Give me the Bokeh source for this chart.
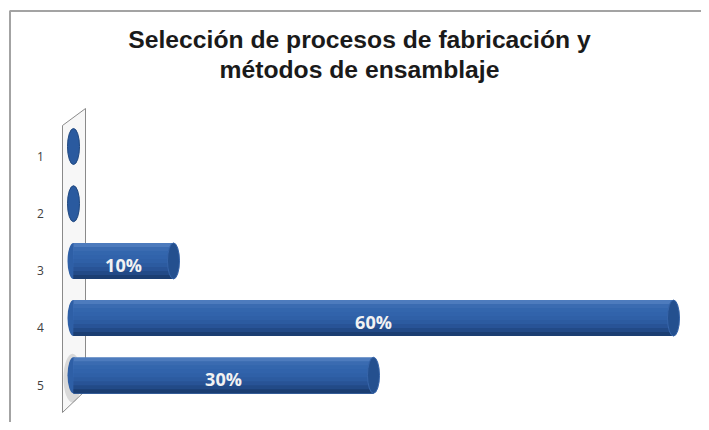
from bokeh.plotting import figure
from bokeh.models import Range1d, ColumnDataSource
from bokeh.core.properties import value
from bokeh.embed import file_html
from bokeh.resources import INLINE

# ---- data ----
categories = ["1", "2", "3", "4", "5"]
percentages = [0, 0, 10, 60, 30]
title_lines = ["Selección de procesos de fabricación y", "métodos de ensamblaje"]

W, H = 701, 422
PX_PER_X = 10.0
X0 = -73 / PX_PER_X
X1 = X0 + W / PX_PER_X
PX_PER_Y = 57.2
YT = 1 - 146 / PX_PER_Y
YB = YT + H / PX_PER_Y

def px_x(px):
    return X0 + px / PX_PER_X

def px_y(py):
    return YT + py / PX_PER_Y

p = figure(width=W, height=H, output_backend="svg", toolbar_location=None,
           x_range=Range1d(X0, X1), y_range=Range1d(YB, YT),
           x_axis_location=None, y_axis_location=None, min_border=0,
           background_fill_color="white", border_fill_color="white")
p.outline_line_color = None
p.grid.visible = False

ypos = [i + 1 for i in range(len(categories))]

# outer chart border (top/left)
p.line([px_x(9.5), px_x(9.5), px_x(W + 20)], [px_y(H + 20), px_y(10.5), px_y(10.5)],
       line_color="#a3a3a3", line_width=2)

# 3-D wall
p.patch([px_x(62), px_x(85), px_x(85), px_x(62)],
        [px_y(125), px_y(108), px_y(390), px_y(412)],
        fill_color="#f7f7f7", line_color="#8a8a8a", line_width=1)

# shadow near last bar
p.ellipse(x=[-0.1], y=[ypos[-1] + 0.05], width=1.8, height=0.85,
          fill_color="#808080", fill_alpha=0.25, line_color=None)

BAR_H = 0.63
CAP_W = 1.2
strip_colors = ["#4d7bbd", "#3a6bb1", "#3366ad", "#3163ab", "#2f60a7",
                "#2c5ba0", "#285396", "#224a87", "#1b3e72"]

bar_y = [y for y, v in zip(ypos, percentages) if v > 0]
bar_v = [v for v in percentages if v > 0]
zero_y = [y for y, v in zip(ypos, percentages) if v == 0]

# zero-value bars: just the end disc
p.ellipse(x=[0] * len(zero_y), y=zero_y, width=CAP_W, height=BAR_H,
          fill_color="#2a5a9f", line_color="#1f477f", line_width=1)

# back (left) rounded end
p.ellipse(x=[0] * len(bar_y), y=bar_y, width=CAP_W, height=BAR_H,
          fill_color="#2e5fa6", line_color=None)

# cylinder body with gradient (overlapping strips, no seams)
n = len(strip_colors)
sh = BAR_H / n
for k, c in enumerate(strip_colors):
    tops = [y - BAR_H / 2 + sh * k for y in bar_y]
    bottoms = [y + BAR_H / 2 for y in bar_y]
    p.quad(left=[0] * len(bar_y), right=bar_v, top=tops, bottom=bottoms,
           fill_color=c, line_color=None)

# front (right) cap
p.ellipse(x=bar_v, y=bar_y, width=CAP_W, height=BAR_H,
          fill_color="#24508f", line_color="#3765aa", line_width=1)

# value labels
lab = ColumnDataSource(dict(x=[v / 2 for v in bar_v], y=[y + 0.07 for y in bar_y],
                            t=[f"{v}%" for v in bar_v]))
p.text(x="x", y="y", text="t", source=lab, text_align="center",
       text_baseline="middle", text_color="#f2f2f2", text_font_size="18px",
       text_font_style="bold", text_font=value("Open Sans"))

# category labels
cat = ColumnDataSource(dict(x=[px_x(40)] * len(categories),
                            y=[y + 0.17 for y in ypos], t=categories))
p.text(x="x", y="y", text="t", source=cat, text_align="center",
       text_baseline="middle", text_color="#404040", text_font_size="12px",
       text_font=value("Open Sans"))

# title
p.text(x=[px_x(359)] * 2, y=[px_y(39), px_y(69)], text=title_lines,
       text_align="center", text_baseline="middle", text_color="#1a1a1a",
       text_font_size="24.7px", text_font_style="bold",
       text_font=value("Liberation Sans"))

open("out.html", "w").write(file_html(p, INLINE))
